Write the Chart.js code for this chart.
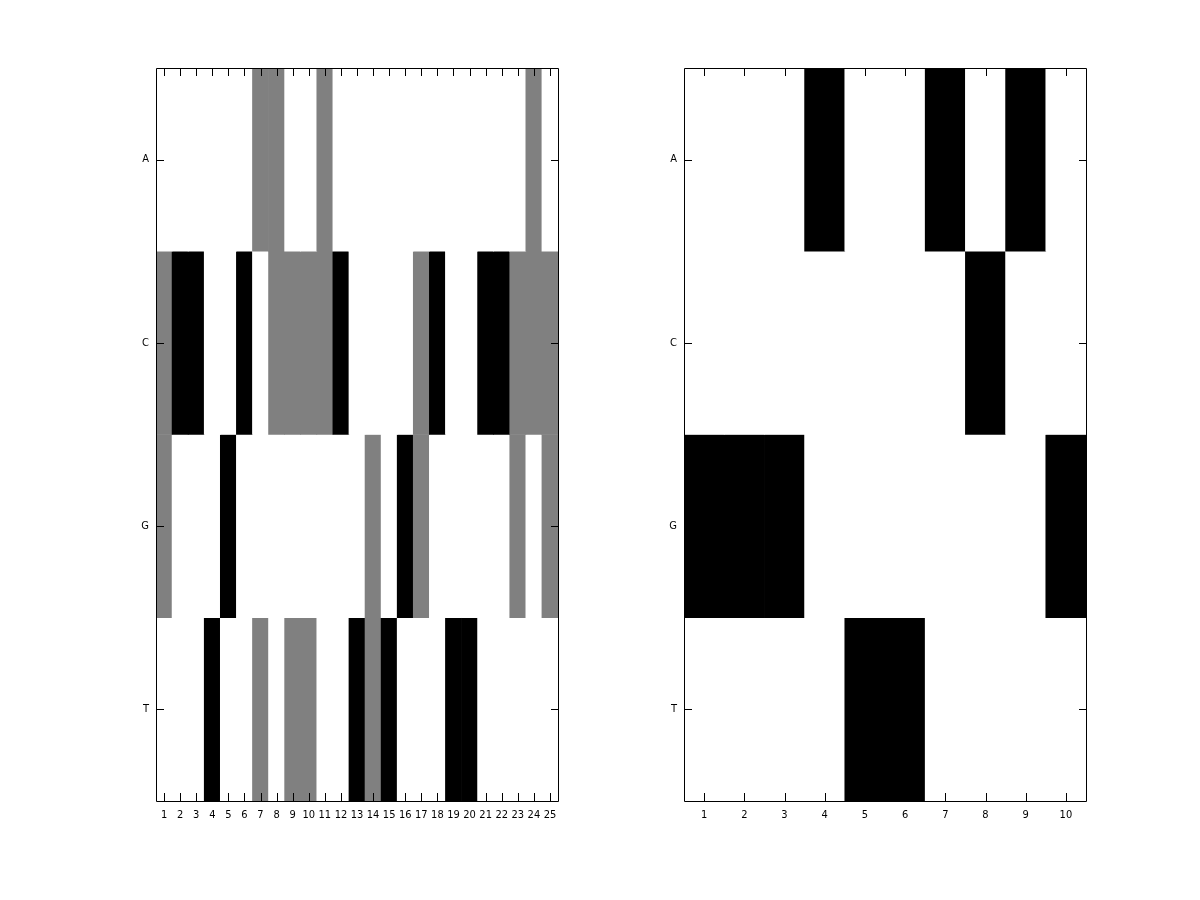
<!DOCTYPE html>
<html>
<head>
<meta charset="utf-8">
<script src="https://cdn.jsdelivr.net/npm/chart.js@4.4.0/dist/chart.umd.min.js"></script>
<style>
html, body { margin: 0; padding: 0; background: #ffffff; }
#wrap { position: relative; width: 1200px; height: 900px; background: #ffffff; }
#wrap canvas { position: absolute; top: 0; }
</style>
</head>
<body>
<div id="wrap">
  <canvas id="leftChart" width="600" height="900" style="left:0px"></canvas>
  <canvas id="rightChart" width="600" height="900" style="left:600px"></canvas>
</div>
<script>
// ---- data ----
const rowLabels = ['A', 'C', 'G', 'T'];

const leftPositions = ['1','2','3','4','5','6','7','8','9','10','11','12','13','14','15','16','17','18','19','20','21','22','23','24','25'];
const leftA = [0, 0, 0, 0, 0, 0, 0.5, 0.5, 0, 0, 0.5, 0, 0, 0, 0, 0, 0, 0, 0, 0, 0, 0, 0, 0.5, 0];
const leftC = [0.5, 1, 1, 0, 0, 1, 0, 0.5, 0.5, 0.5, 0.5, 1, 0, 0, 0, 0, 0.5, 1, 0, 0, 1, 1, 0.5, 0.5, 0.5];
const leftG = [0.5, 0, 0, 0, 1, 0, 0, 0, 0, 0, 0, 0, 0, 0.5, 0, 1, 0.5, 0, 0, 0, 0, 0, 0.5, 0, 0.5];
const leftT = [0, 0, 0, 1, 0, 0, 0.5, 0, 0.5, 0.5, 0, 0, 1, 0.5, 1, 0, 0, 0, 1, 1, 0, 0, 0, 0, 0];

const rightPositions = ['1','2','3','4','5','6','7','8','9','10'];
const rightA = [0, 0, 0, 1, 0, 0, 1, 0, 1, 0];
const rightC = [0, 0, 0, 0, 0, 0, 0, 1, 0, 0];
const rightG = [1, 1, 1, 0, 0, 0, 0, 0, 0, 1];
const rightT = [0, 0, 0, 0, 1, 1, 0, 0, 0, 0];

// ---- rendering ----
const tickFont = { family: "'DejaVu Sans Condensed', 'Liberation Sans Narrow', 'DejaVu Sans', sans-serif", size: 11 };

function grayFor(v) {
  const g = Math.round(255 * (1 - v));
  return 'rgb(' + g + ',' + g + ',' + g + ')';
}

const framePlugin = {
  id: 'frameTicks',
  afterDatasetsDraw(chart) {
    const { ctx, chartArea: a, scales } = chart;
    const tl = 8;
    ctx.save();
    ctx.strokeStyle = '#000000';
    ctx.lineWidth = 1;
    ctx.beginPath();
    ctx.rect(a.left + 0.5, a.top + 0.5, a.right - a.left, a.bottom - a.top);
    scales.x.ticks.forEach((t, i) => {
      const px = Math.round(scales.x.getPixelForTick(i)) + 0.5;
      ctx.moveTo(px, a.bottom);
      ctx.lineTo(px, a.bottom - tl);
      ctx.moveTo(px, a.top);
      ctx.lineTo(px, a.top + tl);
    });
    scales.y.ticks.forEach((t) => {
      const py = Math.round(scales.y.getPixelForValue(t.value)) + 0.5;
      ctx.moveTo(a.left, py);
      ctx.lineTo(a.left + tl, py);
      ctx.moveTo(a.right + 1, py);
      ctx.lineTo(a.right + 1 - tl, py);
    });
    ctx.stroke();
    ctx.restore();
  }
};

function makeHeatmap(canvasId, positions, rows, areaLeft, areaRight) {
  const datasets = rows.map((vals, r) => ({
    label: rowLabels[r],
    data: vals.map(() => [r - 0.5, r + 0.5]),
    backgroundColor: vals.map(grayFor),
    borderWidth: 0,
    barPercentage: 1,
    categoryPercentage: 1,
    grouped: false
  }));
  return new Chart(document.getElementById(canvasId), {
    type: 'bar',
    data: { labels: positions, datasets },
    options: {
      responsive: false,
      animation: false,
      layout: { padding: { top: 68, right: 600 - areaRight, bottom: 0, left: 0 } },
      plugins: { legend: { display: false }, tooltip: { enabled: false } },
      scales: {
        x: {
          type: 'category',
          offset: true,
          grid: { display: false, drawTicks: false },
          border: { display: false },
          ticks: { color: '#000000', font: tickFont, padding: 8, maxRotation: 0, autoSkip: false },
          afterFit: (s) => { s.height = 900 - 801; }
        },
        y: {
          type: 'linear',
          reverse: true,
          min: -0.5,
          max: 3.5,
          grid: { display: false, drawTicks: false },
          border: { display: false },
          afterBuildTicks: (s) => { s.ticks = rowLabels.map((_, i) => ({ value: i })); },
          ticks: {
            color: '#000000',
            font: tickFont,
            padding: 7,
            autoSkip: false,
            callback: (v) => rowLabels[v]
          },
          afterFit: (s) => { s.width = areaLeft; }
        }
      }
    },
    plugins: [framePlugin]
  });
}

makeHeatmap('leftChart', leftPositions, [leftA, leftC, leftG, leftT], 156, 558);
makeHeatmap('rightChart', rightPositions, [rightA, rightC, rightG, rightT], 84, 486);
</script>
</body>
</html>
